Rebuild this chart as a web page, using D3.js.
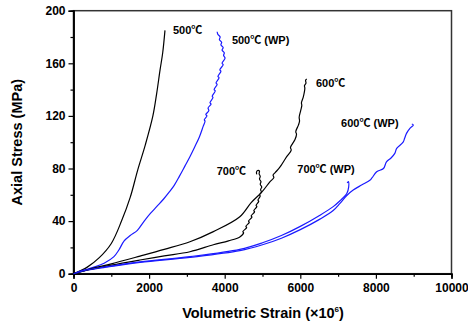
<!DOCTYPE html>
<html>
<head>
<meta charset="utf-8">
<script src="https://cdn.jsdelivr.net/npm/d3@7"></script>
<style>
  body { margin: 0; background: #fff; }
  text { font-family: "Liberation Sans", Arial, "Noto Sans CJK SC", sans-serif; font-weight: bold; }
</style>
</head>
<body>
<svg id="chart" width="468" height="326"></svg>
<script>
// strain (x1e-6), stress (MPa)
var s500 = [[0,0],[365,5],[675,12],[1000,23],[1270,40],[1500,58],[1700,79],[1900,98],[2100,120],[2200,137],[2290,155],[2360,168],[2420,185]];
var s500wp = [[0,0],[250,2.5],[540,5],[810,8],[1070,13],[1200,18],[1340,25],[1500,29],[1690,33],[1870,40],[2040,46],[2200,51],[2390,57],[2530,62],[2660,67],[2800,74],[2950,82],[3080,89],[3200,96],[3330,104],[3430,112],
  [3480,116],[3460,117],[3530,120],[3500,121],[3580,124],[3560,126],[3640,129],[3610,130],[3690,134],[3670,135],[3750,139],[3720,140],[3800,144],[3770,145],[3850,149],[3820,150],[3900,154],[3870,155],[3960,159],[3930,160],[4010,164],
  [3970,166],[3990,168],[3930,170],[3960,172],[3900,174],[3920,176],[3860,178],[3880,180],[3820,182],[3800,184]];
var s600 = [[0,0],[500,4],[1000,7.5],[1760,13.4],[2400,18.5],[3080,24.3],[3700,32],[4400,43.3],[4700,54],[4980,62],[5200,70],[5300,73],[5280,75],[5340,77],[5460,81],[5640,89],[5760,94],[5740,96],[5860,102],[5900,106],[5880,108],[5950,113],[5980,116],[5970,119],[6010,124],[6040,128],[6030,130],[6080,134.5],[6120,141],[6110,143],[6150,145],[6140,147],[6170,148]];
var s700 = [[0,0],[400,3],[1000,6.5],[1760,10.4],[2400,13.5],[3080,16.7],[3700,22],[4100,25],[4400,28],
  [4500,31],[4480,32],[4580,35],[4560,36],[4650,39],[4630,40],[4720,43],[4700,44],[4790,47],[4770,48],[4850,51],[4830,52],[4900,55],[4880,56],[4940,59],[4920,60],[4970,62],[4950,64],[4980,66],[4940,68],[4960,70],[4920,72],[4940,74],[4910,76],[4920,78],[4870,78.5],[4840,77],[4850,75.5]];
var s600wp = [[0,0],[300,2.3],[800,4.6],[1760,8.6],[3080,12.4],[4400,17.5],[5000,22],[5500,27],[6000,33.5],[6520,41.5],[6870,48],[7050,53.5],[7230,59.5],[7400,63.6],[7620,67.4],[7840,71],[7900,73],[8020,77.5],[8200,80],[8280,85],[8400,88],[8500,91.5],[8550,95.3],[8720,100],[8760,103],[8810,106.7],[8900,110.5],[8990,113],[8950,113.8]];
var s700wp = [[0,0],[300,2.5],[800,5],[1760,9],[3080,13],[4400,18.5],[5000,23.5],[5500,29],[6000,36],[6520,44.5],[6870,51],[7050,55.5],[7230,61],[7280,66],[7270,70],[7240,69]];

var series = [
  { name: "500℃", data: s500, color: "#000", at: [2632, 182] },
  { name: "500℃ (WP)", data: s500wp, color: "#1a1aff", at: [4190, 175] },
  { name: "600℃", data: s600, color: "#000", at: [6415, 142] },
  { name: "600℃ (WP)", data: s600wp, color: "#1a1aff", at: [7080, 111.5] },
  { name: "700℃", data: s700, color: "#000", at: [3790, 75] },
  { name: "700℃ (WP)", data: s700wp, color: "#1a1aff", at: [5920, 76.5] }
];

var xTicks = [0, 2000, 4000, 6000, 8000, 10000];
var yTicks = [0, 40, 80, 120, 160, 200];

var svg = d3.select("#chart");
var x = d3.scaleLinear().domain([0, 10000]).range([73.5, 451.5]);
var y = d3.scaleLinear().domain([0, 200]).range([273.7, 10.7]);

// frame
svg.append("rect")
  .attr("x", x(0)).attr("y", y(200))
  .attr("width", x(10000) - x(0)).attr("height", y(0) - y(200))
  .attr("fill", "none").attr("stroke", "#333").attr("stroke-width", 1.5);

var xAxis = svg.append("g").attr("transform", "translate(0," + y(0) + ")")
  .call(d3.axisBottom(x).tickValues(xTicks).tickSize(5).tickPadding(3).tickFormat(d3.format("d")));
svg.append("g").attr("transform", "translate(0," + y(0) + ")")
  .call(d3.axisBottom(x).tickValues(d3.range(1000, 10000, 2000)).tickSize(3).tickFormat(""));
var yAxis = svg.append("g").attr("transform", "translate(" + x(0) + ",0)")
  .call(d3.axisLeft(y).tickValues(yTicks).tickSize(5).tickPadding(3));
svg.append("g").attr("transform", "translate(" + x(0) + ",0)")
  .call(d3.axisLeft(y).tickValues(d3.range(20, 200, 40)).tickSize(3).tickFormat(""));

svg.selectAll(".domain").attr("stroke", "#000").attr("stroke-width", 1.5);
svg.selectAll(".tick line").attr("stroke", "#000").attr("stroke-width", 1.2);
svg.selectAll(".tick text").attr("font-size", 12).attr("fill", "#000")
  .style("font-family", "'Liberation Sans', Arial, sans-serif").style("font-weight", "bold");
xAxis.selectAll(".tick text").attr("dy", "0.9em");

var line = d3.line()
  .x(function(d) { return x(d[0]); })
  .y(function(d) { return y(d[1]); })
  .curve(d3.curveCatmullRom.alpha(0.5));

svg.append("g").selectAll("path")
  .data(series)
  .enter().append("path")
  .attr("d", function(d) { return line(d.data); })
  .attr("fill", "none")
  .attr("stroke", function(d) { return d.color; })
  .attr("stroke-width", 1.2);

svg.append("g").selectAll("text")
  .data(series)
  .enter().append("text")
  .attr("x", function(d) { return x(d.at[0]); })
  .attr("y", function(d) { return y(d.at[1]); })
  .attr("font-size", 11)
  .text(function(d) { return d.name; });

svg.append("text")
  .attr("transform", "translate(22," + ((y(0) + y(200)) / 2) + ") rotate(-90)")
  .attr("text-anchor", "middle")
  .attr("font-size", 14.5)
  .text("Axial Stress (MPa)");

var xt = svg.append("text")
  .attr("x", 263)
  .attr("y", 318)
  .attr("text-anchor", "middle")
  .attr("font-size", 14.5);
xt.append("tspan").text("Volumetric Strain (×10");
xt.append("tspan").attr("dy", -6).attr("font-size", 8).text("6");
xt.append("tspan").attr("dy", 6).text(")");
</script>
</body>
</html>
